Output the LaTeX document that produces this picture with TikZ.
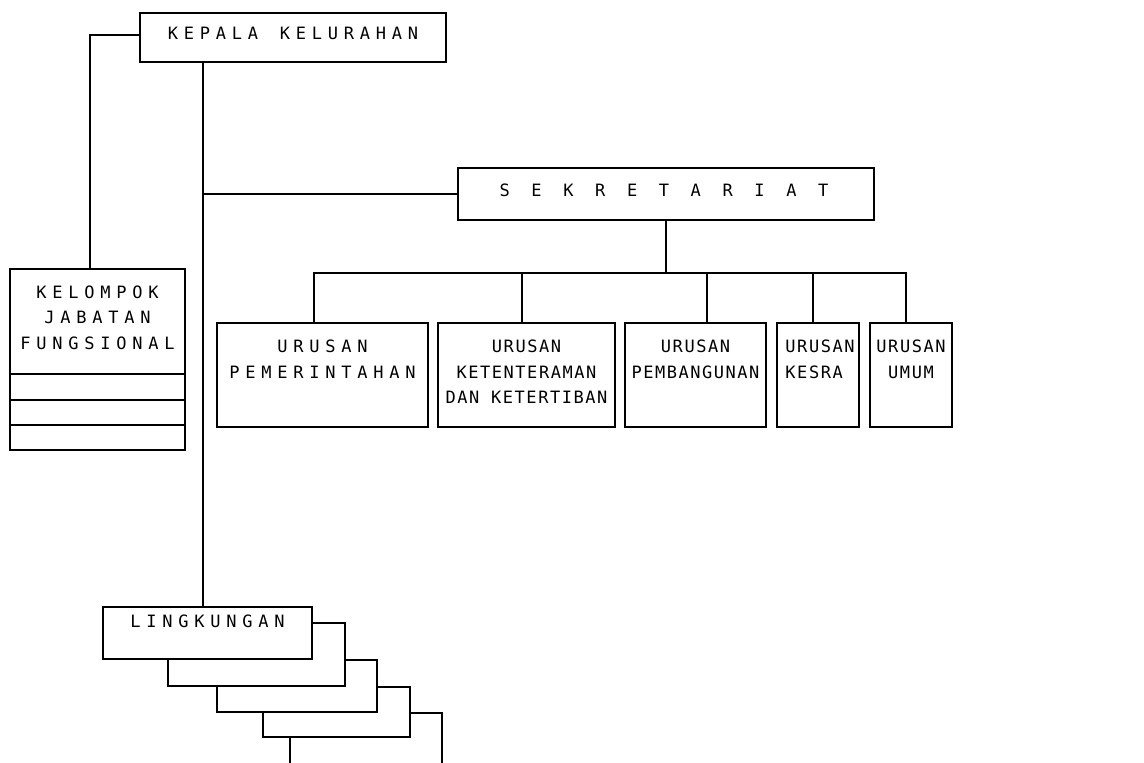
\documentclass[tikz,border=0pt]{standalone}
\usepackage{fontspec}
\newfontfamily\widefont[LetterSpace=34, WordSpace=1.35]{DejaVu Sans Mono}
\newfontfamily\narrowfont[LetterSpace=9]{DejaVu Sans Mono}

\tikzset{
    unit/.style={draw, line width=1.9pt, inner sep=0pt},
    widetxt/.style={font=\widefont\fontsize{17}{25.5}\selectfont, align=center, inner sep=0pt},
    narrowtxt/.style={font=\narrowfont\fontsize{17}{25.5}\selectfont, align=center, inner sep=0pt},
    link/.style={line width=1.9pt}
}

\begin{document}
\begin{tikzpicture}[x=1pt, y=-1pt]

    \useasboundingbox (0,0) rectangle (1144,763);

    \node[unit, minimum width=306, minimum height=49] (kepala) at (293,37.5) {};
    \node[widetxt] (kepalatxt) at (293,33.5) {KEPALA KELURAHAN};

    \node[unit, minimum width=416, minimum height=52] (sekretariat) at (666,194) {};
    \node[widetxt] (sekretariattxt) at (664,190) {S E K R E T A R I A T};

    \node[unit, minimum width=175, minimum height=181] (kelompok) at (97.5,359.5) {};
    \node[widetxt] (kelompoktxt) at (97.5,317.5) {KELOMPOK\\JABATAN\\FUNGSIONAL};
    \foreach \d in {26,51,77} \draw[link] ([yshift=\d]kelompok.south west) -- ([yshift=\d]kelompok.south east);

    \node[unit, minimum width=211, minimum height=104] (pem) at (322.5,375) {};
    \node[unit, minimum width=177, minimum height=104] (ket) at (526.5,375) {};
    \node[unit, minimum width=141, minimum height=104] (pbg) at (695.5,375) {};
    \node[unit, minimum width=82, minimum height=104] (kes) at (818,375) {};
    \node[unit, minimum width=82, minimum height=104] (umum) at (911,375) {};

    \node[widetxt, anchor=north] (pemtxt) at ([yshift=-18]pem.north) {URUSAN\\PEMERINTAHAN};
    \node[narrowtxt, anchor=north] (kettxt) at ([yshift=-18]ket.north) {URUSAN\\KETENTERAMAN\\DAN KETERTIBAN};
    \node[narrowtxt, anchor=north] (pbgtxt) at ([yshift=-18]pbg.north) {URUSAN\\PEMBANGUNAN};
    \node[narrowtxt, anchor=north, align=left] (kestxt) at ([xshift=2,yshift=-18]kes.north) {URUSAN\\KESRA};
    \node[narrowtxt, anchor=north] (umumtxt) at ([yshift=-18]umum.north) {URUSAN\\UMUM};

    \node[unit, minimum width=209, minimum height=52] (lingkungan) at (207.5,633) {};
    \node[widetxt] (lingkungantxt) at (207.5,621) {LINGKUNGAN};

    \coordinate (spine) at (203,62);
    \draw[link] ([yshift=2.5]kepala.west) -| ([xshift=-7.5]kelompok.north);
    \draw[link] (spine) -- (spine |- lingkungan.north);
    \draw[link] (sekretariat.west) -- (sekretariat.west -| spine);

    \draw[link] (sekretariat.south) -- ++(0,52) coordinate (bus);
    \draw[link] ([xshift=-8.5]pem.north) |- (bus) -| ([xshift=-5]umum.north);
    \draw[link] ([xshift=-4.5]ket.north) -- ([xshift=-4.5]ket.north |- bus);
    \draw[link] ([xshift=11.5]pbg.north) -- ([xshift=11.5]pbg.north |- bus);
    \draw[link] ([xshift=-5]kes.north) -- ([xshift=-5]kes.north |- bus);

    \foreach \rp/\t/\r/\b/\l/\bp in {312/623/345/686/168/659, 345/660/377/712/217/686,
                                     377/687/410/737/263/712, 410/713/442/767/290/737}
        \draw[link] (\rp,\t) -- (\r,\t) -- (\r,\b) -- (\l,\b) -- (\l,\bp);

\end{tikzpicture}
\end{document}
